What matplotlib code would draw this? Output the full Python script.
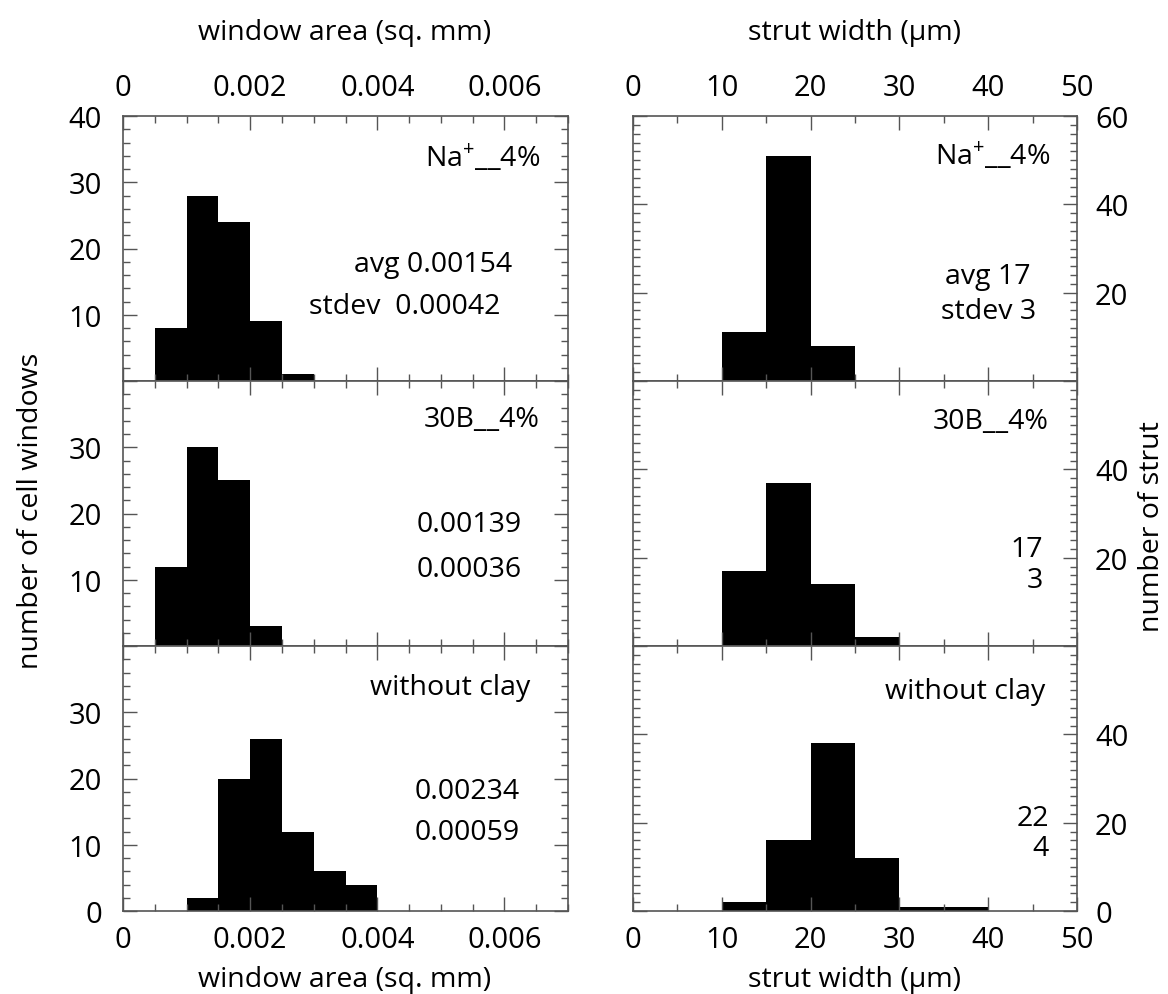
import matplotlib.pyplot as plt
from matplotlib.ticker import MultipleLocator

plt.rcParams['font.family'] = ['Open Sans', 'DejaVu Sans']

# window area histograms (sq. mm), bin edges + counts
area_edges_na = [0.0005, 0.001, 0.0015, 0.002, 0.0025, 0.003]
area_counts_na = [8, 28, 24, 9, 1]
area_edges_30b = [0.0005, 0.001, 0.0015, 0.002, 0.0025]
area_counts_30b = [12, 30, 25, 3]
area_edges_noclay = [0.001, 0.0015, 0.002, 0.0025, 0.003, 0.0035, 0.004]
area_counts_noclay = [2, 20, 26, 12, 6, 4]

# strut width histograms (um)
strut_edges_na = [10, 15, 20, 25]
strut_counts_na = [11, 51, 8]
strut_edges_30b = [10, 15, 20, 25, 30]
strut_counts_30b = [17, 37, 14, 2]
strut_edges_noclay = [10, 15, 20, 25, 30, 35, 40]
strut_counts_noclay = [2, 16, 38, 12, 1, 1]

sample_names = ['Na$^{\\mathregular{+}}$__4%', '30B__4%', 'without clay']
area_avg = ['avg 0.00154', '0.00139', '0.00234']
area_std = ['stdev  0.00042', '0.00036', '0.00059']
strut_avg = ['avg 17', '17', '22']
strut_std = ['stdev 3', '3', '4']

area_xticks = [0, 0.002, 0.004, 0.006]
area_xticklabels = ['0', '0.002', '0.004', '0.006']
strut_xticks = [0, 10, 20, 30, 40, 50]
area_yticks = [[10, 20, 30, 40], [10, 20, 30], [0, 10, 20, 30]]
strut_yticks = [[20, 40, 60], [20, 40], [0, 20, 40]]

area_data = [(area_edges_na, area_counts_na), (area_edges_30b, area_counts_30b),
             (area_edges_noclay, area_counts_noclay)]
strut_data = [(strut_edges_na, strut_counts_na), (strut_edges_30b, strut_counts_30b),
              (strut_edges_noclay, strut_counts_noclay)]

W, H = 1168, 995
fig = plt.figure(figsize=(W / 100, H / 100), dpi=100)

gray = '#555555'
fs_tick = 21
fs_txt = 20.5

bottoms = [382, 647, 912]
ax_h = 265 / H

# text placement (axes fraction): name, avg, std
left_name = [(0.937, 0.85), (0.935, 0.855), (0.915, 0.845)]
left_avg = [(0.874, 0.44), (0.897, 0.46), (0.892, 0.453)]
left_std = [(0.847, 0.283), (0.897, 0.29), (0.892, 0.298)]
right_name = [(0.939, 0.857), (0.935, 0.85), (0.928, 0.83)]
right_avg = [(0.80, 0.396, 'center'), (0.923, 0.366, 'right'), (0.937, 0.351, 'right')]
right_std = [(0.80, 0.264, 'center'), (0.923, 0.249, 'right'), (0.937, 0.238, 'right')]


def style(ax, row, side):
    ax.tick_params(which='both', direction='in', top=True, bottom=True,
                   left=True, right=True, color=gray, width=1,
                   labelsize=fs_tick, labelcolor='black')
    ax.tick_params(which='major', length=10)
    ax.tick_params(which='minor', length=5)
    ax.tick_params(axis='x', labeltop=(row == 0), labelbottom=(row == 2))
    ax.tick_params(axis='x', which='major', pad=10)
    if side == 'left':
        ax.tick_params(axis='y', labelleft=True, labelright=False, pad=15)
    else:
        ax.tick_params(axis='y', labelleft=False, labelright=True, pad=13)
    for sp in ax.spines.values():
        sp.set_color(gray)
        sp.set_linewidth(1.2)


for row in range(3):
    b = 1 - bottoms[row] / H

    # window area column
    ax = fig.add_axes([123 / W, b, 445 / W, ax_h])
    edges, counts = area_data[row]
    ax.stairs(counts, edges, fill=True, color='black')
    ax.set_xlim(0, 0.007)
    ax.set_ylim(0, 40)
    ax.set_xticks(area_xticks)
    ax.set_xticklabels(area_xticklabels)
    ax.xaxis.set_minor_locator(MultipleLocator(0.0005))
    ax.set_yticks([0, 10, 20, 30, 40])
    ax.set_yticklabels([str(t) if t in area_yticks[row] else '' for t in [0, 10, 20, 30, 40]])
    ax.yaxis.set_minor_locator(MultipleLocator(2))
    style(ax, row, 'left')
    x, y = left_name[row]
    ax.text(x, y, sample_names[row], transform=ax.transAxes, ha='right', va='center', fontsize=fs_txt)
    x, y = left_avg[row]
    ax.text(x, y, area_avg[row], transform=ax.transAxes, ha='right', va='center', fontsize=fs_txt)
    x, y = left_std[row]
    ax.text(x, y, area_std[row], transform=ax.transAxes, ha='right', va='center', fontsize=fs_txt)

    # strut width column
    ax = fig.add_axes([633 / W, b, 444 / W, ax_h])
    edges, counts = strut_data[row]
    ax.stairs(counts, edges, fill=True, color='black')
    ax.set_xlim(0, 50)
    ax.set_ylim(0, 60)
    ax.set_xticks(strut_xticks)
    ax.xaxis.set_minor_locator(MultipleLocator(5))
    ax.set_yticks([0, 20, 40, 60])
    ax.set_yticklabels([str(t) if t in strut_yticks[row] else '' for t in [0, 20, 40, 60]])
    ax.yaxis.set_minor_locator(MultipleLocator(2))
    style(ax, row, 'right')
    x, y = right_name[row]
    ax.text(x, y, sample_names[row], transform=ax.transAxes, ha='right', va='center', fontsize=fs_txt)
    x, y, ha = right_avg[row]
    ax.text(x, y, strut_avg[row], transform=ax.transAxes, ha=ha, va='center', fontsize=fs_txt)
    x, y, ha = right_std[row]
    ax.text(x, y, strut_std[row], transform=ax.transAxes, ha=ha, va='center', fontsize=fs_txt)

# axis titles
fig.text(345 / W, 1 - 33 / H, 'window area (sq. mm)', ha='center', va='center', fontsize=fs_txt)
fig.text(855 / W, 1 - 33 / H, 'strut width (\u00b5m)', ha='center', va='center', fontsize=fs_txt)
fig.text(345 / W, 1 - 980 / H, 'window area (sq. mm)', ha='center', va='center', fontsize=fs_txt)
fig.text(855 / W, 1 - 980 / H, 'strut width (\u00b5m)', ha='center', va='center', fontsize=fs_txt)
fig.text(31 / W, 1 - 511 / H, 'number of cell windows', rotation=90, ha='center', va='center', fontsize=fs_txt)
fig.text(1166 / W, 1 - 527 / H, 'number of strut', rotation=90, ha='right', va='center', fontsize=fs_txt)

fig.savefig('out.png', dpi=100)
